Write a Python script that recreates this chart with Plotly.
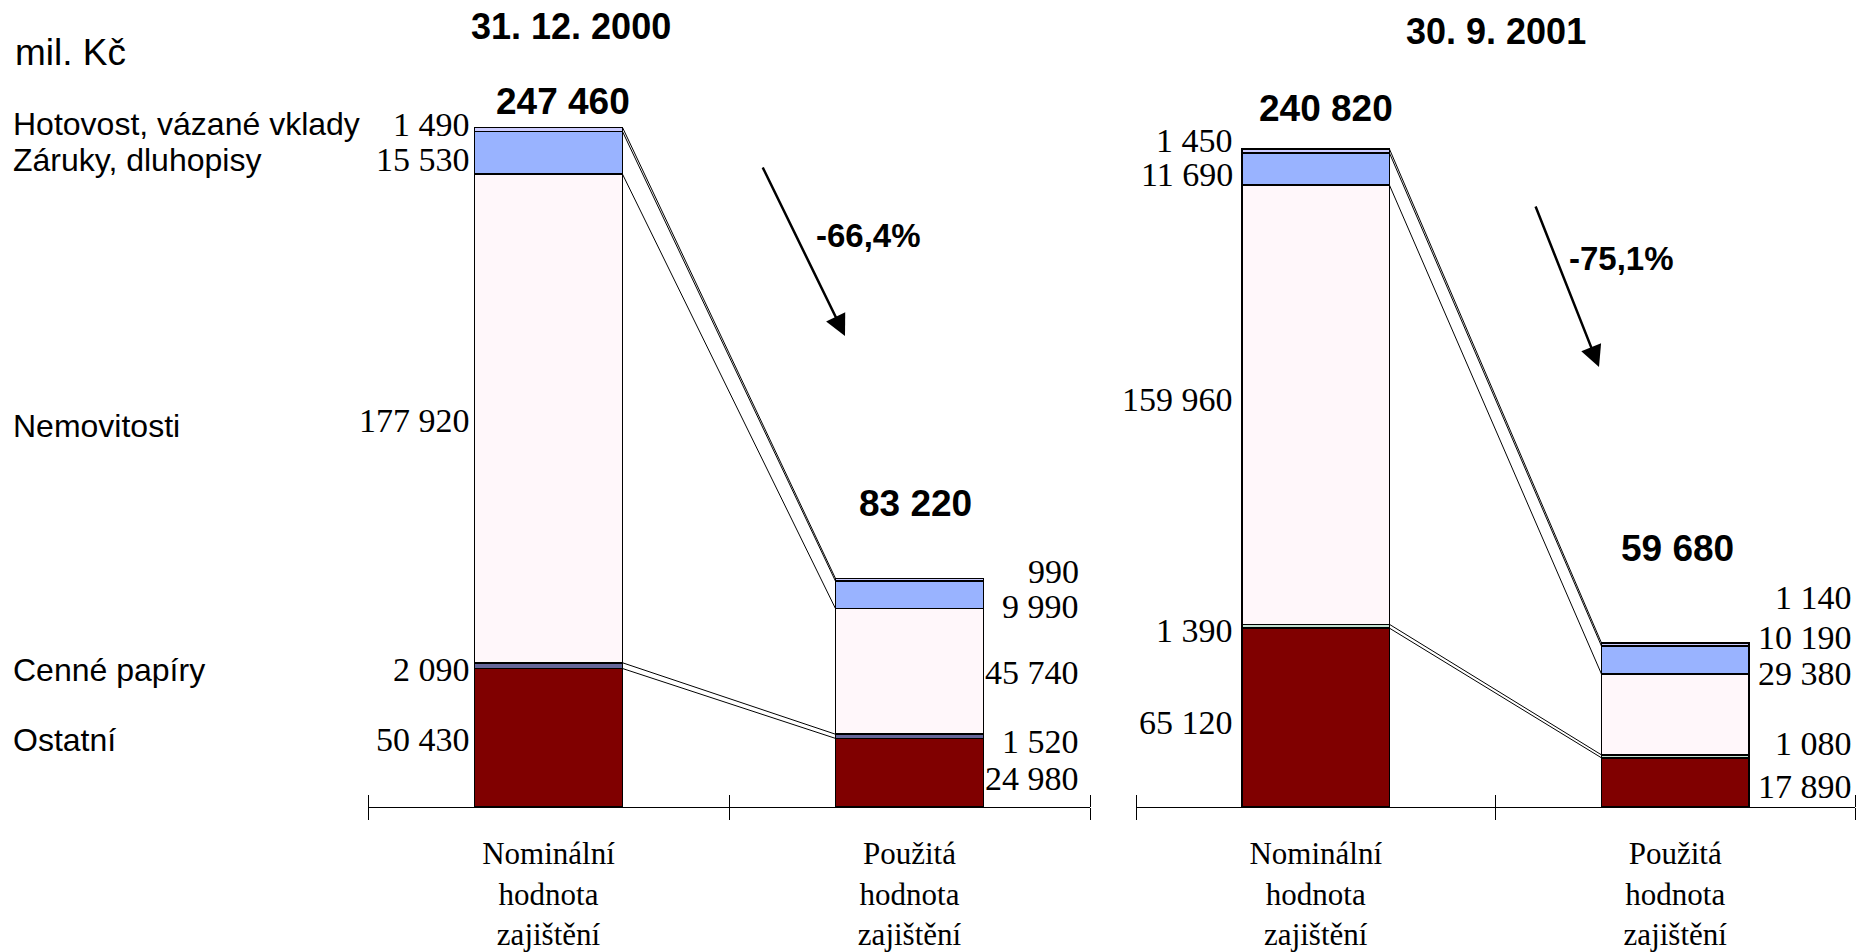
import numpy as np
import plotly.graph_objects as go

# ---------------- data ----------------
series = ["Ostatní", "Cenné papíry", "Nemovitosti", "Záruky, dluhopisy", "Hotovost, vázané vklady"]
categories = ["Nominální<br>hodnota<br>zajištění", "Použitá<br>hodnota<br>zajištění"]
dates = ["31. 12. 2000", "30. 9. 2001"]

nominal_2000 = [50430, 2090, 177920, 15530, 1490]
used_2000 = [24980, 1520, 45740, 9990, 990]
nominal_2001 = [65120, 1390, 159960, 11690, 1450]
used_2001 = [17890, 1080, 29380, 10190, 1140]

totals_2000 = [247460, 83220]
totals_2001 = [240820, 59680]
changes = ["-66,4%", "-75,1%"]
unit_label = "mil. Kč"

colors_2000 = ["#800000", "#666699", "#FFF7FA", "#99B3FF", "#CCCCFF"]
colors_2001 = ["#800000", "#C4E2D2", "#FFF7FA", "#99B3FF", "#CCCCFF"]

# ---------------- layout helpers ----------------
W, H = 1861, 952
SERIF = "Liberation Serif"
SANS = "Liberation Sans"
BARW = 0.41
Y0 = 1 - 807 / H
Y1 = 0.96
YMAX = 280000


def fmt(v):
    return f"{v:,}".replace(",", " ")


fig = go.Figure()

panels = [
    dict(nom=nominal_2000, used=used_2000, tot=totals_2000, colors=colors_2000,
         xa="x", ya="y", xt="x3", dom=[368 / W, 1090 / W]),
    dict(nom=nominal_2001, used=used_2001, tot=totals_2001, colors=colors_2001,
         xa="x2", ya="y2", xt="x4", dom=[1136 / W, 1855 / W]),
]

for p in panels:
    for i, name in enumerate(series):
        fig.add_trace(go.Bar(
            x=[0, 1], y=[p["nom"][i], p["used"][i]], width=BARW, name=name,
            marker=dict(color=p["colors"][i], line=dict(color="#000000", width=1.6)),
            xaxis=p["xa"], yaxis=p["ya"], hoverinfo="skip", showlegend=False,
        ))
    # series lines connecting cumulative boundaries (drawn on the overlay tick axis)
    c1 = np.cumsum(p["nom"])
    c2 = np.cumsum(p["used"])
    xs, ys = [], []
    for a, b in zip(c1, c2):
        xs += [BARW / 2, 1 - BARW / 2, None]
        ys += [a, b, None]
    fig.add_trace(go.Scatter(x=xs, y=ys, mode="lines", line=dict(color="#000000", width=1),
                             xaxis=p["xt"], yaxis=p["ya"], hoverinfo="skip", showlegend=False))

annotations = []

# segment value labels (pixel nudges relative to segment middles)
label_shifts = {
    ("x", 0): [-2, -4, -2, -7, 5],
    ("x", 1): [-6, -5, -1, -12, 8],
    ("x2", 0): [-5, -4, 5, -5, 10],
    ("x2", 1): [-4, 13, 41, 23, 47],
}
name_shifts = [-2, -4, -8, -7, 5]
bar1_xshift = {"x": -4, "x2": -8}
bar2_xshift = {"x": -10, "x2": -2}
LABEL_SIZE = 34

for p in panels:
    for j, vals in enumerate([p["nom"], p["used"]]):
        v = np.array(vals, dtype=float)
        mids = np.cumsum(v) - v / 2
        shifts = label_shifts[(p["xa"], j)]
        for k in range(len(vals)):
            if j == 0:
                xpos, xsh = -BARW / 2, bar1_xshift[p["xa"]]
            else:
                xpos, xsh = 1.5, bar2_xshift[p["xa"]]
            annotations.append(dict(
                x=xpos, y=mids[k], xref=p["xa"], yref=p["ya"], text=fmt(vals[k]),
                xanchor="right", yanchor="middle", xshift=xsh, yshift=shifts[k],
                showarrow=False, borderpad=0,
                font=dict(family=SERIF, size=LABEL_SIZE, color="#000000")))

# category names on the left, aligned with first bar's labels
v = np.array(nominal_2000, dtype=float)
mids = np.cumsum(v) - v / 2
for k, name in enumerate(series):
    annotations.append(dict(
        x=12 / W, y=mids[k], xref="paper", yref="y", text=name, xanchor="left",
        yanchor="middle", yshift=name_shifts[k], showarrow=False, borderpad=0,
        font=dict(family=SANS, size=32, color="#000000")))

# totals above bars
total_shifts = {"x": [26, 75], "x2": [37, 95]}
total_xshifts = {"x": [14, 6], "x2": [10, 2]}
for p in panels:
    for j in range(2):
        annotations.append(dict(
            x=j, y=p["tot"][j], xref=p["xa"], yref=p["ya"], text=f"<b>{fmt(p['tot'][j])}</b>",
            xanchor="center", yanchor="middle", yshift=total_shifts[p["xa"]][j],
            xshift=total_xshifts[p["xa"]][j], showarrow=False,
            font=dict(family=SANS, size=37, color="#000000")))

# panel titles
annotations.append(dict(x=571 / W, y=1 - 26 / H, xref="paper", yref="paper", text=f"<b>{dates[0]}</b>",
                        showarrow=False, xanchor="center", yanchor="middle",
                        font=dict(family=SANS, size=36, color="#000000")))
annotations.append(dict(x=1496 / W, y=1 - 32 / H, xref="paper", yref="paper", text=f"<b>{dates[1]}</b>",
                        showarrow=False, xanchor="center", yanchor="middle",
                        font=dict(family=SANS, size=36, color="#000000")))
annotations.append(dict(x=13 / W, y=1 - 52 / H, xref="paper", yref="paper", text=unit_label,
                        showarrow=False, xanchor="left", yanchor="middle",
                        font=dict(family=SANS, size=37, color="#000000")))

# arrows and change labels
annotations.append(dict(x=845 / W, y=1 - 336 / H, xref="paper", yref="paper", ax=-83, ay=-170,
                        text="", showarrow=True, arrowhead=2, arrowsize=1.7, arrowwidth=2.5,
                        arrowcolor="#000000"))
annotations.append(dict(x=1599 / W, y=1 - 367 / H, xref="paper", yref="paper", ax=-64, ay=-162,
                        text="", showarrow=True, arrowhead=2, arrowsize=1.7, arrowwidth=2.5,
                        arrowcolor="#000000"))
annotations.append(dict(x=868 / W, y=1 - 235 / H, xref="paper", yref="paper", text=f"<b>{changes[0]}</b>",
                        showarrow=False, xanchor="center", yanchor="middle",
                        font=dict(family=SANS, size=33, color="#000000")))
annotations.append(dict(x=1621 / W, y=1 - 259 / H, xref="paper", yref="paper", text=f"<b>{changes[1]}</b>",
                        showarrow=False, xanchor="center", yanchor="middle",
                        font=dict(family=SANS, size=33, color="#000000")))

label_axis = dict(range=[-0.5, 1.5], tickvals=[0, 1], ticktext=categories, ticks="",
                  showline=True, linecolor="#000000", linewidth=1, showgrid=False, zeroline=False,
                  tickfont=dict(family=SERIF, size=31, color="#000000"), ticklabelstandoff=19,
                  fixedrange=True)
tick_axis = dict(range=[-0.5, 1.5], tickvals=[-0.5, 0.5, 1.5], showticklabels=False,
                 ticks="outside", ticklen=12, tickwidth=1, tickcolor="#000000",
                 minor=dict(tickvals=[-0.5, 0.5, 1.5], ticks="inside", ticklen=12, tickwidth=1,
                            tickcolor="#000000", showgrid=False),
                 showline=False, showgrid=False, zeroline=False, fixedrange=True)
y_axis = dict(domain=[Y0, Y1], range=[0, YMAX], visible=False, fixedrange=True)

fig.update_layout(
    width=W, height=H, margin=dict(l=0, r=0, t=0, b=0),
    paper_bgcolor="white", plot_bgcolor="white", barmode="stack", showlegend=False,
    xaxis=dict(domain=panels[0]["dom"], anchor="y", **label_axis),
    xaxis2=dict(domain=panels[1]["dom"], anchor="y2", **label_axis),
    xaxis3=dict(overlaying="x", anchor="y", **tick_axis),
    xaxis4=dict(overlaying="x2", anchor="y2", **tick_axis),
    yaxis=dict(anchor="x", **y_axis),
    yaxis2=dict(anchor="x2", **y_axis),
    annotations=annotations,
)

fig.write_html(
    "out.html",
    config={"displayModeBar": False},
    post_script="document.body.style.margin='0';document.body.style.overflow='hidden';",
)
